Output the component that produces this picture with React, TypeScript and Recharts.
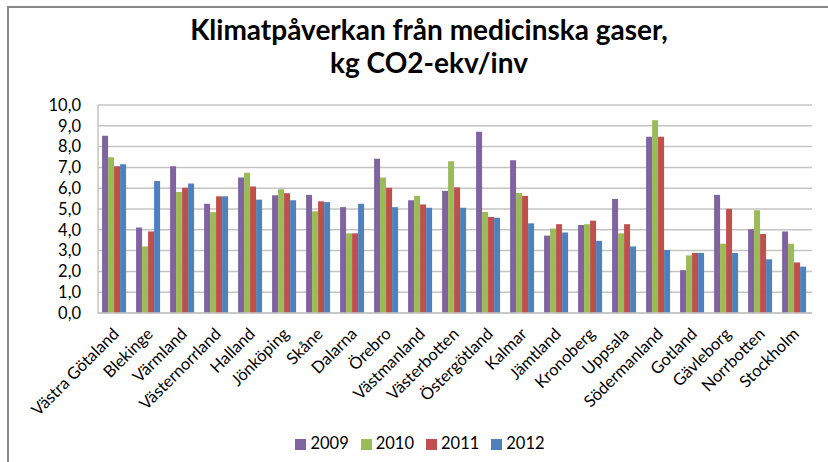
import React from 'react';
import { BarChart, Bar, XAxis, YAxis, CartesianGrid, Legend } from 'recharts';

const regions = [
  'Västra Götaland', 'Blekinge', 'Värmland', 'Västernorrland', 'Halland', 'Jönköping',
  'Skåne', 'Dalarna', 'Örebro', 'Västmanland', 'Västerbotten', 'Östergötland',
  'Kalmar', 'Jämtland', 'Kronoberg', 'Uppsala', 'Södermanland', 'Gotland',
  'Gävleborg', 'Norrbotten', 'Stockholm',
];

const y2009 = [8.52, 4.11, 7.06, 5.25, 6.51, 5.66, 5.68, 5.09, 7.42, 5.42, 5.87, 8.71, 7.34, 3.72, 4.23, 5.48, 8.47, 2.06, 5.68, 4.03, 3.92];
const y2010 = [7.49, 3.2, 5.82, 4.85, 6.74, 5.95, 4.89, 3.83, 6.51, 5.63, 7.29, 4.86, 5.77, 4.06, 4.27, 3.83, 9.27, 2.77, 3.33, 4.94, 3.33];
const y2011 = [7.05, 3.92, 6.02, 5.61, 6.08, 5.76, 5.37, 3.83, 6.02, 5.22, 6.04, 4.62, 5.63, 4.27, 4.44, 4.27, 8.47, 2.89, 5.01, 3.8, 2.43];
const y2012 = [7.15, 6.35, 6.23, 5.61, 5.45, 5.42, 5.33, 5.25, 5.09, 5.06, 5.06, 4.58, 4.31, 3.87, 3.47, 3.2, 3.03, 2.89, 2.89, 2.58, 2.23];

const yTicks = [0, 1, 2, 3, 4, 5, 6, 7, 8, 9, 10];

const FONT = 'Lato, "Open Sans", sans-serif';

const data = regions.map((region, i) => ({
  region,
  '2009': y2009[i],
  '2010': y2010[i],
  '2011': y2011[i],
  '2012': y2012[i],
}));

// labels at -45deg, ending just right of the category centre
const RotatedTick = (props: any) => {
  const { x, y, payload } = props;
  return (
    <g transform={`translate(${x + 5},${y + 14})`}>
      <text
        transform="rotate(-45)"
        textAnchor="end"
        fontSize={16.5}
        fontFamily={FONT}
        fill="#000"
      >
        {payload.value}
      </text>
    </g>
  );
};

export default function App() {
  return (
    <div style={{ position: 'absolute', left: 0, top: 0, width: 828, height: 462, background: '#fff' }}>
      <div
        style={{
          position: 'absolute', left: 7, top: 6, width: 821, height: 456,
          borderTop: '2px solid #8a8a8a', borderLeft: '2px solid #8a8a8a',
        }}
      />
      <div
        style={{
          position: 'absolute', left: 0, top: 13, width: 858, textAlign: 'center',
          fontFamily: FONT, fontWeight: 700, fontSize: 28, lineHeight: '33px', color: '#000',
        }}
      >
        Klimatpåverkan från medicinska gaser,
        <br />
        kg CO2-ekv/inv
      </div>
      <div style={{ position: 'absolute', left: 0, top: 0 }}>
        <BarChart
          width={828}
          height={462}
          data={data}
          margin={{ top: 105, right: 16, left: 0, bottom: 9 }}
          barCategoryGap="12%"
          barGap={0}
        >
          <CartesianGrid vertical={false} stroke="#c4c4c4" strokeWidth={1.5} />
          <YAxis
            width={98}
            domain={[0, 10]}
            ticks={yTicks}
            interval={0}
            tickLine={false}
            tickMargin={11}
            axisLine={{ stroke: '#c4c4c4', strokeWidth: 1.5 }}
            tickFormatter={(v: number) => v.toFixed(1).replace('.', ',')}
            tick={{ fontSize: 16.5, fontFamily: FONT, fill: '#000' }}
          />
          <XAxis
            dataKey="region"
            interval={0}
            height={120}
            tickLine={false}
            axisLine={{ stroke: '#c4c4c4', strokeWidth: 1.5 }}
            tick={<RotatedTick />}
          />
          <Legend
            verticalAlign="bottom"
            align="center"
            iconType="square"
            iconSize={11}
            wrapperStyle={{ fontFamily: FONT, fontSize: 16.5, color: '#000', paddingLeft: 20 }}
            formatter={(value: string) => <span style={{ color: '#000', marginRight: 2 }}>{value}</span>}
          />
          <Bar dataKey="2009" fill="#8064A2" isAnimationActive={false} />
          <Bar dataKey="2010" fill="#9BBB59" isAnimationActive={false} />
          <Bar dataKey="2011" fill="#C0504D" isAnimationActive={false} />
          <Bar dataKey="2012" fill="#4F81BD" isAnimationActive={false} />
        </BarChart>
      </div>
    </div>
  );
}
